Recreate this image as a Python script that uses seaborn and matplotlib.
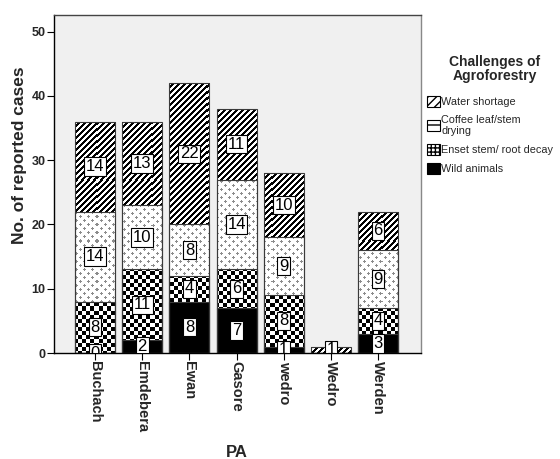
import matplotlib
matplotlib.use("Agg")
import matplotlib.pyplot as plt
import seaborn as sns
import pandas as pd
import numpy as np
from matplotlib.patches import Patch

sns.set_theme(style="white")
plt.rcParams['font.family'] = ['Liberation Sans', 'DejaVu Sans']
plt.rcParams['hatch.linewidth'] = 1.0

pas = ["Buchach", "Emdebera", "Ewan", "Gasore", "wedro", "Wedro", "Werden"]
wild_animals = [0, 2, 8, 7, 1, 0, 3]
enset_decay = [8, 11, 4, 6, 8, 0, 4]
coffee_drying = [14, 10, 8, 14, 9, 0, 9]
water_shortage = [14, 13, 22, 11, 10, 1, 6]
y_ticks = [0, 10, 20, 30, 40, 50]

series = [
    ("Wild animals", wild_animals),
    ("Enset stem/ root decay", enset_decay),
    ("Coffee leaf/stem\ndrying", coffee_drying),
    ("Water shortage", water_shortage),
]
pattern_of = {
    "Wild animals": None,
    "Enset stem/ root decay": "checker",
    "Coffee leaf/stem\ndrying": "plus",
    "Water shortage": "diag",
}
legend_hatch = {
    "Wild animals": None,
    "Enset stem/ root decay": "++++",
    "Coffee leaf/stem\ndrying": "+",
    "Water shortage": "////",
}

XLIM = (-0.87, 6.91)
YLIM = (0, 52.6)

df = pd.DataFrame({"PA": pas})
cum = np.zeros(len(pas))
bottoms = {}
for name, vals in series:
    bottoms[name] = cum.copy()
    cum = cum + np.array(vals)
    df[name] = cum
totals = cum

W, H = 560, 459
fig = plt.figure(figsize=(W / 100, H / 100), dpi=100)
ax_px = (54, 15, 421, 353)  # left, top, right, bottom in pixels
ax = fig.add_axes([ax_px[0] / W, 1 - ax_px[3] / H,
                   (ax_px[2] - ax_px[0]) / W, (ax_px[3] - ax_px[1]) / H])
ax.set_facecolor("#f0f0f0")

pw, ph = ax_px[2] - ax_px[0], ax_px[3] - ax_px[1]


def pattern(kind):
    r = np.arange(ph)[:, None]
    c = np.arange(pw)[None, :]
    img = np.ones((ph, pw, 3))
    if kind == "diag":
        mask = ((r + c) % 6) < 3
        img[mask] = 0.0
    elif kind == "checker":
        mask = ((r // 4 + c // 4) % 2) == 0
        img[mask] = 0.0
    elif kind == "plus":
        mask = np.zeros((ph, pw), bool)
        for (cr, cc) in [(2, 2), (6, 6)]:
            dr = (r - cr) % 8
            dc = (c - cc) % 8
            dr = np.where(dr > 4, dr - 8, dr)
            dc = np.where(dc > 4, dc - 8, dc)
            mask |= ((dr == 0) & (np.abs(dc) <= 1)) | ((dc == 0) & (np.abs(dr) <= 1))
        img[mask] = 0.55
    return img


# draw from tallest cumulative down so lower segments cover upper ones
for name, vals in reversed(series):
    kind = pattern_of[name]
    n0 = len(ax.patches)
    sns.barplot(data=df, x="PA", y=name, order=pas, ax=ax, width=0.85,
                color="black" if kind is None else "white",
                linewidth=0, saturation=1, errorbar=None)
    new = ax.patches[n0:]
    if kind is not None:
        img = pattern(kind)
        for p in new:
            if p.get_height() <= 0:
                continue
            im = ax.imshow(img, extent=(XLIM[0], XLIM[1], YLIM[0], YLIM[1]),
                           origin="upper", interpolation="nearest",
                           aspect="auto", zorder=1)
            im.set_clip_path(p)

# outlines
for name, vals in reversed(series):
    sns.barplot(data=df, x="PA", y=name, order=pas, ax=ax, width=0.85,
                fill=False, edgecolor="#3a3a3a", linewidth=0.8,
                errorbar=None, zorder=2)

# value labels
for name, vals in series:
    for i, v in enumerate(vals):
        if v == 0 and totals[i] < 2:
            continue
        yc = bottoms[name][i] + v / 2
        ax.text(i, yc, str(v), ha="center", va="center", fontsize=12,
                family=["Liberation Sans Narrow", "Liberation Sans"],
                color="black", clip_on=True, zorder=3,
                bbox=dict(boxstyle="square,pad=0.1", facecolor="white",
                          edgecolor="black", linewidth=0.8))

ax.set_xlim(*XLIM)
ax.set_ylim(*YLIM)
ax.set_yticks(y_ticks)
ax.set_yticklabels([str(t) for t in y_ticks], fontweight="bold", fontsize=9)
ax.set_xticks(range(len(pas)))
ax.set_xticklabels(pas, rotation=-90, fontweight="bold", fontsize=10.5)
ax.tick_params(axis="both", which="both", length=5, width=0.8, color="black",
               direction="out", bottom=True, left=True, pad=1)
ax.set_xlabel("PA", fontweight="bold", fontsize=12)
ax.xaxis.set_label_coords((237 - ax_px[0]) / pw, -(445 - ax_px[3]) / ph)
ax.set_ylabel("No. of reported cases", fontweight="bold", fontsize=12.5)
ax.yaxis.set_label_coords(-(ax_px[0] - 27) / pw, (ax_px[3] - 155) / ph)

for s in ["left", "bottom"]:
    ax.spines[s].set_color("black")
    ax.spines[s].set_linewidth(1.0)
ax.spines["top"].set_color("#444444")
ax.spines["top"].set_linewidth(1.0)
ax.spines["right"].set_color("#888888")
ax.spines["right"].set_linewidth(1.0)

handles = []
labels = []
for name, vals in reversed(series):
    hatch = legend_hatch[name]
    handles.append(Patch(facecolor="black" if pattern_of[name] is None else "white",
                         edgecolor="black", hatch=hatch, linewidth=0.8))
    labels.append(name)
fig.legend(handles, labels, loc="upper left",
           bbox_to_anchor=(427 / W, 1 - 96 / H),
           frameon=False, fontsize=7.8, handlelength=1.2, handleheight=1.2,
           handletextpad=0.1, labelspacing=0.7, borderaxespad=0,
           borderpad=0)
fig.text(495 / W, 1 - 69 / H, "Challenges of\nAgroforestry", ha="center",
         va="center", fontsize=10, fontweight="bold", linespacing=1.05)

fig.savefig("out.png", dpi=100)
